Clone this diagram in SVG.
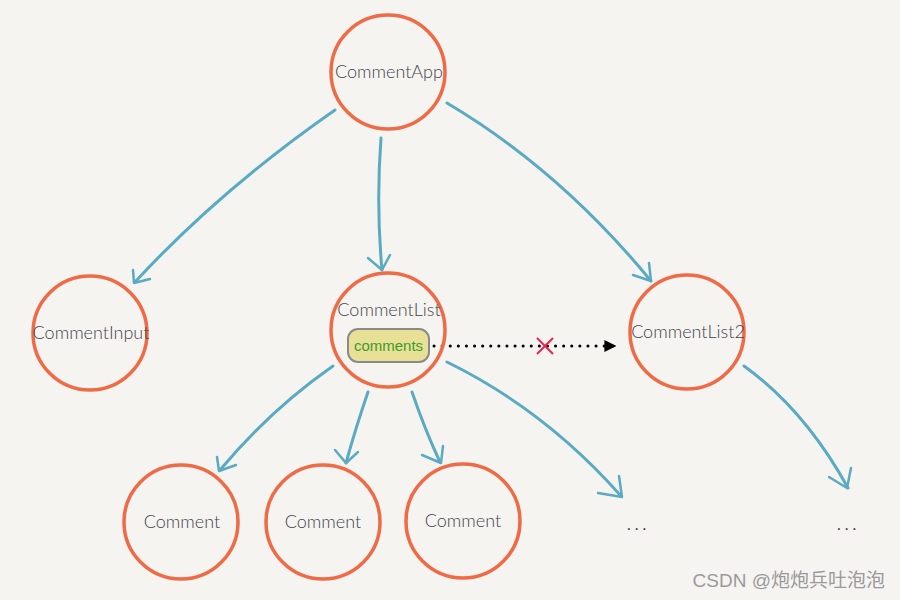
<svg xmlns="http://www.w3.org/2000/svg" width="900" height="600" viewBox="0 0 900 600">
<defs>
<style>
.node{fill:none;stroke:#ef6a45;stroke-width:3.5}
.lbl{font-family:Lato,"Liberation Sans",sans-serif;font-weight:300;font-size:18px;fill:#3f444a;text-anchor:middle}
.edge{fill:none;stroke:#5aabc2;stroke-width:3;stroke-linecap:round}
.head{fill:none;stroke:#5aabc2;stroke-width:2.5;stroke-linecap:round;stroke-linejoin:round}
.dots{font-family:Lato,"Liberation Sans",sans-serif;font-size:16px;fill:#3f444a;letter-spacing:4px}
</style>
<marker id="tri" viewBox="0 0 10 10" refX="8" refY="5" markerWidth="12" markerHeight="12" markerUnits="userSpaceOnUse" orient="auto">
<path d="M0,0 L10,5 L0,10 Z" fill="#000"/>
</marker>
</defs>
<rect width="900" height="600" fill="#f5f4f1"/>
<g id="connectors">
<path class="edge" d="M335,110 Q220,190 135,282"/>
<path class="head" d="M133,270 L134,283 L150,279"/>
<path class="edge" d="M381,138 Q376,205 382,270"/>
<path class="head" d="M368,258 L382,270 L390,255"/>
<path class="edge" d="M447,103 Q560,170 651,281"/>
<path class="head" d="M633,275 L651,281 L649,263"/>
<path class="edge" d="M333,366 Q270,410 220,470"/>
<path class="head" d="M217,457 L219,471 L236,465"/>
<path class="edge" d="M368,392 Q355,430 346,463"/>
<path class="head" d="M335,450 L346,463 L358,452"/>
<path class="edge" d="M412,392 Q425,430 440,462"/>
<path class="head" d="M422,455 L441,463 L443,446"/>
<path class="edge" d="M447,362 Q545,410 621,496"/>
<path class="head" d="M598,493 L622,497 L619,476"/>
<path class="edge" d="M744,366 Q805,410 848,488"/>
<path class="head" d="M829,477 L847,488 L851,468"/>
<path d="M434,346 L614,346" stroke="#000" stroke-width="3" stroke-dasharray="0.1 8" stroke-linecap="round" fill="none" marker-end="url(#tri)"/>
<path d="M537,338 L553,354 M553,338 L537,354" stroke="#e8264f" stroke-width="2"/>
</g>
<g id="CommentApp"><circle class="node" cx="388" cy="72" r="57"/><text class="lbl" x="389" y="78">CommentApp</text></g>
<g id="CommentInput"><circle class="node" cx="90" cy="333" r="57"/><text class="lbl" x="91" y="339">CommentInput</text></g>
<g id="CommentList"><circle class="node" cx="388" cy="330" r="57"/><text class="lbl" x="389" y="316">CommentList</text>
<rect x="348" y="329" width="81" height="33" rx="10" fill="#e8e195" stroke="#8a8a8a" stroke-width="2"/>
<text x="388.5" y="351" font-family="'Liberation Sans',Arial,sans-serif" font-size="15" fill="#3f9a2e" text-anchor="middle">comments</text></g>
<g id="CommentList2"><circle class="node" cx="687" cy="332" r="57"/><text class="lbl" x="688" y="338">CommentList2</text></g>
<g id="Comment1"><circle class="node" cx="181" cy="522" r="57"/><text class="lbl" x="182" y="528">Comment</text></g>
<g id="Comment2"><circle class="node" cx="323" cy="522" r="57"/><text class="lbl" x="323" y="528">Comment</text></g>
<g id="Comment3"><circle class="node" cx="463" cy="521" r="57"/><text class="lbl" x="463" y="527">Comment</text></g>
<g id="more1"><text class="dots" x="627" y="530">...</text></g>
<g id="more2"><text class="dots" x="837" y="530">...</text></g>
<text x="885" y="587" font-family="'Liberation Sans','Noto Sans CJK SC',sans-serif" font-size="19" fill="#9a9a9a" text-anchor="end">CSDN @炮炮兵吐泡泡</text>
</svg>
